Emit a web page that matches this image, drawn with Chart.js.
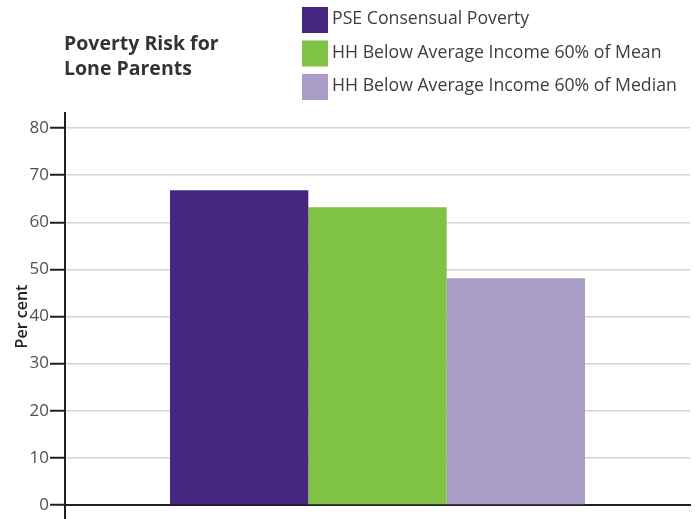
<!DOCTYPE html>
<html>
<head>
<meta charset="utf-8">
<script src="https://cdn.jsdelivr.net/npm/chart.js@4"></script>
<style>
  html, body { margin: 0; padding: 0; background: #fff; }
  #wrap { width: 695px; height: 519px; }
</style>
</head>
<body>
<div id="wrap"><canvas id="myChart"></canvas></div>
<script>
// data
var categories = [''];
var seriesNames = ['PSE Consensual Poverty', 'HH Below Average Income 60% of Mean', 'HH Below Average Income 60% of Median'];
var seriesValues = [[66.8], [63.2], [48.1]];
var seriesColors = ['#452681', '#80c244', '#a99cc7'];
var yTicks = [0, 10, 20, 30, 40, 50, 60, 70, 80];
var titleLines = ['Poverty Risk for', 'Lone Parents'];

var AXIS = '#231f20';

// title + legend on top, and the long y axis line
var decor = {
  id: 'decor',
  afterDraw: function (chart) {
    var ctx = chart.ctx;
    var area = chart.chartArea;
    ctx.save();

    // y axis line runs past 80 and below 0
    ctx.strokeStyle = AXIS;
    ctx.lineWidth = 2;
    ctx.beginPath();
    ctx.moveTo(area.left, area.top - 16);
    ctx.lineTo(area.left, chart.height);
    ctx.stroke();

    // title
    ctx.fillStyle = '#333333';
    ctx.font = 'bold 19.5px "Open Sans"';
    ctx.textBaseline = 'middle';
    ctx.textAlign = 'left';
    titleLines.forEach(function (t, i) {
      ctx.fillText(t, 64, 44 + i * 25);
    });

    // legend
    ctx.font = '17.7px "Open Sans"';
    chart.data.datasets.forEach(function (ds, i) {
      var y = 7 + i * 33.5;
      ctx.fillStyle = ds.backgroundColor;
      ctx.fillRect(302, y, 26, 26);
      ctx.fillStyle = '#3d3d3d';
      ctx.fillText(ds.label, 332, y + 12);
    });
    ctx.restore();
  }
};

var datasets = seriesNames.map(function (name, i) {
  return {
    label: name,
    data: seriesValues[i],
    backgroundColor: seriesColors[i],
    borderWidth: 0
  };
});

const ctx = document.getElementById('myChart').getContext('2d');
const myChart = new Chart(ctx, {
  type: 'bar',
  data: {
    labels: categories,
    datasets: datasets
  },
  plugins: [decor],
  options: {
    responsive: true,
    maintainAspectRatio: false,
    animation: false,
    layout: {
      padding: { top: 128, right: 5, bottom: 14, left: 0 }
    },
    datasets: {
      bar: { categoryPercentage: 0.664, barPercentage: 1 }
    },
    plugins: {
      legend: { display: false },
      tooltip: { enabled: false }
    },
    scales: {
      x: {
        ticks: { display: false },
        grid: { display: false },
        border: { color: AXIS, width: 2 },
        afterFit: function (scale) { scale.height = 0; }
      },
      y: {
        min: 0,
        max: 80,
        afterBuildTicks: function (scale) {
          scale.ticks = yTicks.map(function (v) { return { value: v }; });
        },
        ticks: {
          padding: 1,
          color: '#505050',
          font: { family: 'Open Sans', size: 17 }
        },
        grid: {
          color: '#d3d3d3',
          lineWidth: 1.5,
          tickColor: AXIS,
          tickLength: 15,
          tickWidth: 2
        },
        border: { display: false },
        title: {
          display: true,
          text: 'Per cent',
          color: AXIS,
          font: { family: 'Open Sans', size: 16, weight: '600' },
          padding: { top: 13, bottom: 0 }
        },
        afterFit: function (scale) { scale.width = 65; }
      }
    }
  }
});
</script>
</body>
</html>
